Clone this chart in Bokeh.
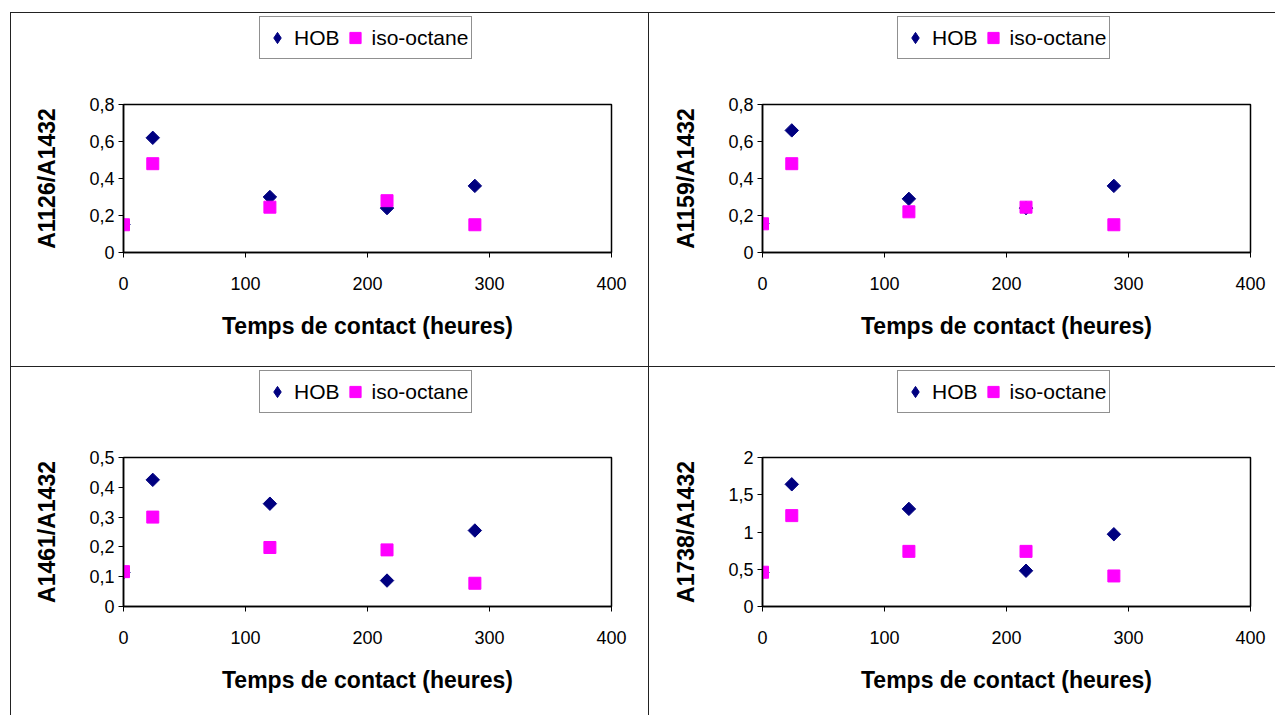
import math
from bokeh.plotting import figure
from bokeh.models import (Range1d, FixedTicker, CustomJSTickFormatter, Legend, LegendItem,
                          GridBox, Column)
from bokeh.embed import file_html
from bokeh.resources import INLINE

# ---- data ----
temps = [0, 24, 120, 216, 288]
x_ticks = [0, 100, 200, 300, 400]

hob_1126 = [0.15, 0.62, 0.30, 0.24, 0.36]
iso_1126 = [0.15, 0.48, 0.245, 0.28, 0.15]

hob_1159 = [0.155, 0.66, 0.29, 0.24, 0.36]
iso_1159 = [0.155, 0.48, 0.22, 0.245, 0.15]

hob_1461 = [0.115, 0.425, 0.345, 0.087, 0.255]
iso_1461 = [0.117, 0.30, 0.198, 0.19, 0.078]

hob_1738 = [0.46, 1.64, 1.31, 0.48, 0.97]
iso_1738 = [0.46, 1.22, 0.74, 0.74, 0.41]

y_labels = ["A1126/A1432", "A1159/A1432", "A1461/A1432", "A1738/A1432"]
y_ticks_08 = [0, 0.2, 0.4, 0.6, 0.8]
y_ticks_05 = [0, 0.1, 0.2, 0.3, 0.4, 0.5]
y_ticks_2 = [0, 0.5, 1, 1.5, 2]
series_names = ["HOB", "iso-octane"]
x_title = "Temps de contact (heures)"

FONT = "Liberation Sans"
NAVY = "#000080"
MAGENTA = "#FF00FF"

fmt = CustomJSTickFormatter(code="return (Math.round(tick*10)/10).toString().replace('.', ',');")

LEG_H = 60


def legend_fig(hob, iso, w, bl, br, lx):
    lf = figure(width=w, height=LEG_H, output_backend="svg", toolbar_location=None,
                x_range=Range1d(0, 400), y_range=Range1d(0, 1),
                x_axis_location=None, y_axis_location=None,
                min_border_left=bl, min_border_right=br, min_border_top=0, min_border_bottom=0)
    lf.outline_line_color = None
    lf.grid.visible = False
    lf.background_fill_color = "white"
    lf.border_fill_color = "white"
    # hidden copies of the series, used only to draw the legend keys
    d1 = lf.scatter(temps, hob, marker="diamond", fill_color=NAVY, line_color=NAVY, visible=False)
    d2 = lf.scatter(temps, iso, marker="square", fill_color=MAGENTA, line_color=MAGENTA, visible=False)
    leg = Legend(items=[LegendItem(label=series_names[0], renderers=[d1]),
                        LegendItem(label=series_names[1], renderers=[d2])],
                 orientation="horizontal", location=(lx, 14))
    leg.label_text_font = FONT
    leg.label_text_font_size = "21px"
    leg.label_text_color = "black"
    leg.glyph_width = 28
    leg.glyph_height = 35
    leg.label_standoff = 3
    leg.spacing = 1
    leg.padding = 3
    leg.margin = 0
    leg.border_line_color = "#222222"
    leg.border_line_width = 1
    leg.background_fill_color = "white"
    leg.background_fill_alpha = 1
    leg.inactive_fill_alpha = 0
    leg.click_policy = "none"
    lf.add_layout(leg, "center")
    return lf


def panel(hob, iso, ylabel, yticks, w, h, bl, br, bt, bb):
    p = figure(width=w, height=h, output_backend="svg", toolbar_location=None,
               x_range=Range1d(x_ticks[0], x_ticks[-1]), y_range=Range1d(yticks[0], yticks[-1]),
               min_border_left=bl, min_border_right=br, min_border_top=bt, min_border_bottom=bb)
    p.background_fill_color = "white"
    p.border_fill_color = "white"
    p.outline_line_color = "black"
    p.outline_line_width = 1.5
    p.grid.visible = False

    for ax, ticks in ((p.xaxis[0], x_ticks), (p.yaxis[0], yticks)):
        ax.ticker = FixedTicker(ticks=ticks)
        ax.formatter = fmt
        ax.minor_tick_line_color = None
        ax.major_tick_in = 0
        ax.major_tick_out = 5
        ax.major_tick_line_color = "black"
        ax.axis_line_color = "black"
        ax.axis_line_width = 1.5
        ax.major_label_text_font = FONT
        ax.major_label_text_font_size = "18px"
        ax.major_label_text_color = "black"
        ax.axis_label_text_font = FONT
        ax.axis_label_text_font_size = "23px"
        ax.axis_label_text_font_style = "bold"
        ax.axis_label_text_color = "black"

    p.xaxis.axis_label = x_title
    p.xaxis.major_label_standoff = 19
    p.xaxis.axis_label_standoff = 20
    p.yaxis.axis_label = ylabel
    p.yaxis.major_label_standoff = 4
    p.yaxis.axis_label_standoff = 26

    p.scatter(temps, hob, marker="square", angle=math.pi / 4, size=9.5,
              fill_color=NAVY, line_color=NAVY)
    p.scatter(temps, iso, marker="square", size=12,
              fill_color=MAGENTA, line_color=MAGENTA)
    return p


W1, W2 = 637, 626
H1, H2 = 353, 348
CELL = {"background-color": "white"}


def cell(hob, iso, ylabel, yticks, w, h, bl, br, bt, bb, lx):
    return Column(children=[legend_fig(hob, iso, w, bl, br, lx),
                            panel(hob, iso, ylabel, yticks, w, h - LEG_H, bl, br, bt - LEG_H, bb)],
                  spacing=0, styles=CELL)


c1 = cell(hob_1126, iso_1126, y_labels[0], y_ticks_08, W1, H1, 112, 37, 91, 114, 136)
c2 = cell(hob_1159, iso_1159, y_labels[1], y_ticks_08, W2, H1, 113, 25, 91, 114, 135)
c3 = cell(hob_1461, iso_1461, y_labels[2], y_ticks_05, W1, H2, 112, 37, 90, 109, 136)
c4 = cell(hob_1738, iso_1738, y_labels[3], y_ticks_2, W2, H2, 113, 25, 90, 109, 135)

grid = GridBox(children=[(c1, 0, 0), (c2, 0, 1), (c3, 1, 0), (c4, 1, 1)], spacing=1,
               styles={"background-color": "#222222", "padding-top": "1px", "padding-left": "1px",
                       "margin-top": "12px", "margin-left": "10px"})

open("out.html", "w").write(file_html(grid, INLINE))
